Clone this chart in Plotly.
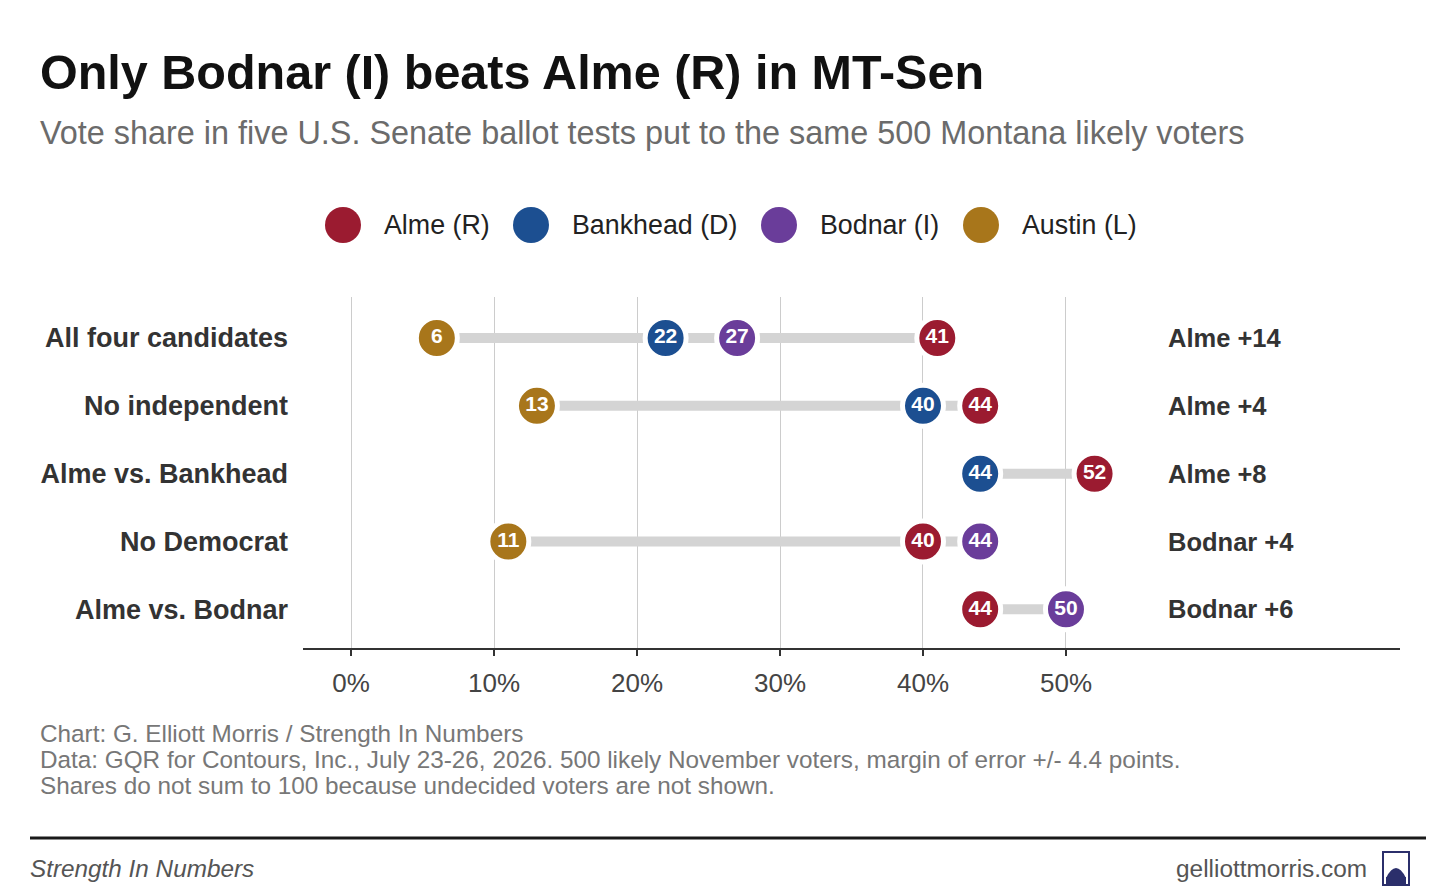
import plotly.graph_objects as go

# ballot tests, top to bottom
tests = ["All four candidates", "No independent", "Alme vs. Bankhead", "No Democrat", "Alme vs. Bodnar"]

# vote share per candidate (None = not in that ballot test)
alme = [41, 44, 52, 40, 44]
bankhead = [22, 40, 44, None, None]
bodnar = [27, None, None, 44, 50]
austin = [6, 13, None, 11, None]

margins = ["Alme +14", "Alme +4", "Alme +8", "Bodnar +4", "Bodnar +6"]

candidates = ["Alme (R)", "Bankhead (D)", "Bodnar (I)", "Austin (L)"]
colors = ["#9b1b30", "#1c4f91", "#6a3d9a", "#a8761b"]
shares = [alme, bankhead, bodnar, austin]

xticks = [0, 10, 20, 30, 40, 50]
xticklabels = ["0%", "10%", "20%", "30%", "40%", "50%"]

FONT = "Liberation Sans, Arial, sans-serif"
W, H = 1456, 893
L, R, T, B = 303, 56, 297, 245


def px(x):
    return (x - L) / (W - L - R)


def py(y):
    return (H - B - y) / (H - T - B)


fig = go.Figure()

# grey connector from lowest to highest share in each row
seg_x, seg_y = [], []
for i, t in enumerate(tests):
    vals = [s[i] for s in shares if s[i] is not None]
    seg_x += [min(vals), max(vals), None]
    seg_y += [t, t, None]
fig.add_trace(go.Scatter(x=seg_x, y=seg_y, mode="lines",
                         line=dict(color="#d4d4d4", width=10),
                         hoverinfo="skip", showlegend=False))

for name, col, vals in zip(candidates, colors, shares):
    xs = [v for v in vals if v is not None]
    ys = [t for t, v in zip(tests, vals) if v is not None]
    fig.add_trace(go.Scatter(
        x=xs, y=ys, mode="markers+text", name=name,
        marker=dict(size=41, color=col, line=dict(color="white", width=5)),
        text=[str(v) for v in xs], textposition="middle center",
        textfont=dict(family=FONT, size=21, color="white", weight="bold"),
        showlegend=False))

ann = []
# margin column on the right
for t, m in zip(tests, margins):
    ann.append(dict(text=m, x=57.0, y=t, xref="x", yref="y", xanchor="left",
                    yanchor="middle", showarrow=False,
                    font=dict(family=FONT, size=25.5, color="#333333", weight="bold")))

fig.update_xaxes(range=[-3.36, 73.36], tickvals=xticks, ticktext=xticklabels,
                 showgrid=True, gridcolor="#cccccc", gridwidth=1,
                 showline=True, linecolor="#333333", linewidth=2,
                 ticks="outside", ticklen=6, tickwidth=2, tickcolor="#333333",
                 ticklabelstandoff=5,
                 tickfont=dict(family=FONT, size=26, color="#444444"),
                 zeroline=False, fixedrange=True)
fig.update_yaxes(categoryorder="array", categoryarray=tests,
                 range=[4.57, -0.605], showgrid=False, zeroline=False,
                 ticklabelstandoff=14, fixedrange=True,
                 tickfont=dict(family=FONT, size=27, color="#333333", weight="bold"))

labels = []
# title + subtitle
labels.append(dict(text="<b>Only Bodnar (I) beats Alme (R) in MT-Sen</b>", x=px(38), y=py(72),
                   font=dict(family=FONT, size=48.5, color="#111111")))
labels.append(dict(text="Vote share in five U.S. Senate ballot tests put to the same 500 Montana likely voters",
                   x=px(38), y=py(133), font=dict(family=FONT, size=32.4, color="#6b6b6b")))

# legend drawn by hand so the dots match the chart size
leg_dot_x = [343, 531, 779, 981]
shapes = []
for name, col, cx in zip(candidates, colors, leg_dot_x):
    shapes.append(dict(type="circle", xref="paper", yref="paper",
                       x0=px(cx - 18), x1=px(cx + 18), y0=py(243), y1=py(207),
                       fillcolor=col, line=dict(width=0)))
    labels.append(dict(text=name, x=px(cx + 39), y=py(225),
                       font=dict(family=FONT, size=26.8, color="#222222")))

# notes
notes = ["Chart: G. Elliott Morris / Strength In Numbers",
         "Data: GQR for Contours, Inc., July 23-26, 2026. 500 likely November voters, margin of error +/- 4.4 points.",
         "Shares do not sum to 100 because undecided voters are not shown."]
for k, n in enumerate(notes):
    labels.append(dict(text=n, x=px(38), y=py(733 + 26 * k),
                       font=dict(family=FONT, size=24.3, color="#777777")))

labels.append(dict(text="<i>Strength In Numbers</i>", x=px(28), y=py(868),
                   font=dict(family=FONT, size=24.3, color="#555555")))
labels.append(dict(text="gelliottmorris.com", x=px(1369), y=py(868), xanchor="right",
                   font=dict(family=FONT, size=24.4, color="#555555")))

for a in labels:
    a.setdefault("xanchor", "left")
    a.update(xref="paper", yref="paper", yanchor="middle", showarrow=False)
ann += labels

# footer rule
shapes.append(dict(type="line", xref="paper", yref="paper",
                   x0=px(30), x1=px(1426), y0=py(838), y1=py(838),
                   line=dict(color="#1a1a1a", width=3)))
# small capitol logo
shapes.append(dict(type="rect", xref="paper", yref="paper",
                   x0=px(1383), x1=px(1409), y0=py(885), y1=py(852),
                   line=dict(color="#2b2f6b", width=2), fillcolor="white"))
shapes.append(dict(type="path", xref="paper", yref="paper",
                   path="M {} {} Q {} {} {} {} Z".format(px(1386), py(878), px(1396), py(858), px(1406), py(878)),
                   fillcolor="#2b2f6b", line=dict(width=0)))
shapes.append(dict(type="rect", xref="paper", yref="paper",
                   x0=px(1386), x1=px(1406), y0=py(884), y1=py(877),
                   fillcolor="#2b2f6b", line=dict(width=0)))

fig.update_layout(width=W, height=H, margin=dict(l=L, r=R, t=T, b=B),
                  plot_bgcolor="white", paper_bgcolor="white",
                  annotations=ann, shapes=shapes, showlegend=False)

fig.write_html("out.html", config={"displayModeBar": False},
               post_script="document.body.style.margin='0';")
